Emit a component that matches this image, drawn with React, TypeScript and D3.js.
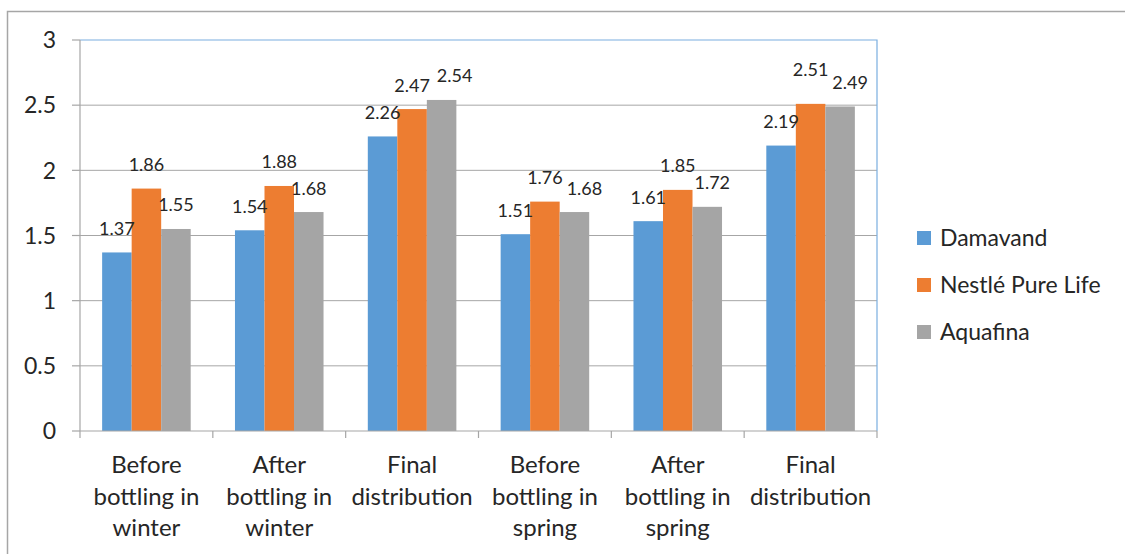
import React from "react";
import * as d3 from "d3";

const categories: string[][] = [
  ["Before", "bottling in", "winter"],
  ["After", "bottling in", "winter"],
  ["Final", "distribution"],
  ["Before", "bottling in", "spring"],
  ["After", "bottling in", "spring"],
  ["Final", "distribution"],
];
const seriesNames = ["Damavand", "Nestlé Pure Life", "Aquafina"];
const damavand = [1.37, 1.54, 2.26, 1.51, 1.61, 2.19];
const nestle = [1.86, 1.88, 2.47, 1.76, 1.85, 2.51];
const aquafina = [1.55, 1.68, 2.54, 1.68, 1.72, 2.49];
const yTicks = [0, 0.5, 1, 1.5, 2, 2.5, 3];
const colors = ["#5B9BD5", "#ED7D31", "#A5A5A5"];
// label nudges [series][category] in px (dx, dy) to mimic overlapping-label placement
const labelDx = [
  [0, 0, 0, 0, 0, 0],
  [0, 0, 0, 0, 0, 0],
  [0, 0, 13, 10, 5, 10],
];
const labelDy = [
  [0, 0, 0, 0, 0, 0],
  [0, 0, 0, 0, 0, -10],
  [0, 0, 0, 0, 0, 0],
];

const W = 1125;
const H = 554;
const FONT = "Lato, 'Open Sans', sans-serif";

export default function App() {
  const values = [damavand, nestle, aquafina];
  const left = 80, right = 877, top = 40, bottom = 431;
  const y = d3.scaleLinear().domain([0, 3]).range([bottom, top]);
  const x = d3.scaleBand<number>().domain(d3.range(categories.length)).range([left, right]).padding(0);
  const inner = d3.scaleBand<number>().domain(d3.range(seriesNames.length)).range([0, x.bandwidth()]).paddingInner(0).paddingOuter(0.75);
  const boundaries = d3.range(categories.length + 1).map((i) => left + i * x.step());

  return (
    <svg width={W} height={H} style={{ position: "absolute", left: 0, top: 0, background: "#fff" }} fontFamily={FONT}>
      <rect x={0} y={0} width={W} height={H} fill="#fff" />
      {/* outer frame */}
      <path d={`M7.5,${H} L7.5,11.5 L${W},11.5`} fill="none" stroke="#a6a6a6" strokeWidth={1.5} />
      {/* gridlines */}
      {yTicks.filter((t) => t > 0 && t < 3).map((t) => (
        <line key={t} x1={left} x2={right} y1={y(t)} y2={y(t)} stroke="#a6a6a6" strokeWidth={1} />
      ))}
      {/* plot border top/right */}
      <path d={`M${left},${y(3)} L${right},${y(3)} L${right},${bottom}`} fill="none" stroke="#7aaee0" strokeWidth={1.2} />
      {/* bars */}
      {values.map((vals, s) =>
        vals.map((v, c) => (
          <rect key={`${s}-${c}`} x={(x(c) as number) + (inner(s) as number)} y={y(v)} width={inner.bandwidth()} height={bottom - y(v)} fill={colors[s]} />
        ))
      )}
      {/* y axis */}
      <line x1={left} x2={left} y1={top} y2={bottom} stroke="#a6a6a6" strokeWidth={1.2} />
      {yTicks.map((t) => (
        <g key={t}>
          <line x1={72} x2={left} y1={y(t)} y2={y(t)} stroke="#a6a6a6" strokeWidth={1.2} />
          <text x={56} y={y(t)} dy="0.36em" textAnchor="end" fontSize={23} fill="#262626">
            {d3.format("")(t)}
          </text>
        </g>
      ))}
      {/* x axis */}
      <line x1={left} x2={right} y1={bottom} y2={bottom} stroke="#a6a6a6" strokeWidth={1.2} />
      {boundaries.map((b, i) => (
        <line key={i} x1={b} x2={b} y1={bottom} y2={bottom + 7} stroke="#a6a6a6" strokeWidth={1.2} />
      ))}
      {categories.map((lines, c) => (
        <text key={c} x={(x(c) as number) + x.bandwidth() / 2} textAnchor="middle" fontSize={24} fill="#262626">
          {lines.map((l, j) => (
            <tspan key={j} x={(x(c) as number) + x.bandwidth() / 2} y={473 + j * 31.5}>
              {l}
            </tspan>
          ))}
        </text>
      ))}
      {/* value labels */}
      {values.map((vals, s) =>
        vals.map((v, c) => (
          <text
            key={`l${s}-${c}`}
            x={(x(c) as number) + (inner(s) as number) + inner.bandwidth() / 2 + labelDx[s][c]}
            y={y(v) - 24 + labelDy[s][c]}
            dy="0.36em"
            textAnchor="middle"
            fontSize={18}
            fill="#262626"
          >
            {v.toFixed(2)}
          </text>
        ))
      )}
      {/* legend */}
      {seriesNames.map((n, s) => (
        <g key={n} transform={`translate(917,${238 + s * 47})`}>
          <rect x={0} y={-7} width={14} height={14} fill={colors[s]} />
          <text x={23} y={0} dy="0.36em" fontSize={23} fill="#262626">
            {n}
          </text>
        </g>
      ))}
    </svg>
  );
}
